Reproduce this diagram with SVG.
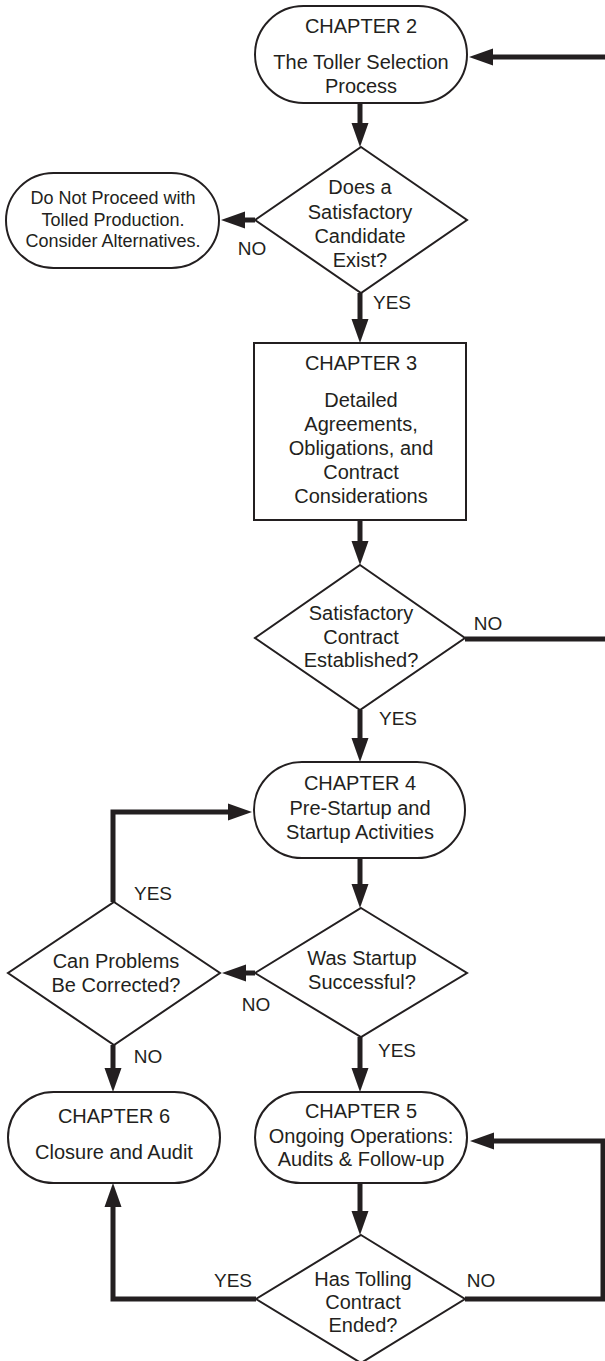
<svg xmlns="http://www.w3.org/2000/svg" width="605" height="1361" viewBox="0 0 605 1361">
  <style>
    .node { fill: #ffffff; stroke: #231f20; stroke-width: 2; }
    .t { font-family: "Liberation Sans", Arial, Helvetica, sans-serif; font-size: 20px; fill: #231f20; text-anchor: middle; }
    .ts { font-family: "Liberation Sans", Arial, Helvetica, sans-serif; font-size: 18px; fill: #231f20; text-anchor: middle; }
    .lbl { font-family: "Liberation Sans", Arial, Helvetica, sans-serif; font-size: 19px; fill: #231f20; text-anchor: middle; }
    .flow { fill: none; stroke: #231f20; stroke-width: 5; stroke-linejoin: miter; stroke-linecap: butt; }
  </style>
  <defs>
    <marker id="ah" markerUnits="userSpaceOnUse" markerWidth="24" markerHeight="17" refX="0" refY="8.5" orient="auto" overflow="visible">
      <path d="M0,0 L24,8.5 L0,17 z" fill="#231f20"/>
    </marker>
  </defs>
  <rect width="605" height="1361" fill="#ffffff"/>

  <!-- connectors -->
  <g id="connectors">
    <path class="flow" d="M605,57 H493" marker-end="url(#ah)"/>
    <path class="flow" d="M360,103 V123" marker-end="url(#ah)"/>
    <path class="flow" d="M255,220 H245" marker-end="url(#ah)"/>
    <path class="flow" d="M360,293 V319" marker-end="url(#ah)"/>
    <path class="flow" d="M360,520 V541" marker-end="url(#ah)"/>
    <path class="flow" d="M465,639 H605"/>
    <path class="flow" d="M360,710 V738" marker-end="url(#ah)"/>
    <path class="flow" d="M360,858 V884" marker-end="url(#ah)"/>
    <path class="flow" d="M255,973 H246" marker-end="url(#ah)"/>
    <path class="flow" d="M113,902 V812 H228" marker-end="url(#ah)"/>
    <path class="flow" d="M113,1045 V1068" marker-end="url(#ah)"/>
    <path class="flow" d="M360,1037 V1068" marker-end="url(#ah)"/>
    <path class="flow" d="M360,1183 V1211" marker-end="url(#ah)"/>
    <path class="flow" d="M256,1299 H113 V1207" marker-end="url(#ah)"/>
    <path class="flow" d="M465,1299 H603 V1141 H494" marker-end="url(#ah)"/>
    <text class="lbl" x="252" y="255">NO</text>
    <text class="lbl" x="392" y="309">YES</text>
    <text class="lbl" x="488" y="630">NO</text>
    <text class="lbl" x="398" y="725">YES</text>
    <text class="lbl" x="153" y="900">YES</text>
    <text class="lbl" x="256" y="1011">NO</text>
    <text class="lbl" x="397" y="1057">YES</text>
    <text class="lbl" x="148" y="1063">NO</text>
    <text class="lbl" x="233" y="1287">YES</text>
    <text class="lbl" x="481" y="1287">NO</text>
  </g>

  <!-- Chapter 2 -->
  <g id="ch2">
    <rect class="node" x="255" y="6" width="212" height="97" rx="48.5"/>
    <text class="t" x="361" y="33">CHAPTER 2</text>
    <text class="t" x="361" y="69">The Toller Selection</text>
    <text class="t" x="361" y="93">Process</text>
  </g>

  <!-- Decision: candidate -->
  <g id="candidate">
    <polygon class="node" points="361,147 467,220 361,293 255,220"/>
    <text class="t" x="360" y="194">Does a</text>
    <text class="t" x="360" y="219">Satisfactory</text>
    <text class="t" x="360" y="243">Candidate</text>
    <text class="t" x="360" y="267">Exist?</text>
  </g>

  <!-- Do not proceed -->
  <g id="noproceed">
    <rect class="node" x="6" y="173" width="213" height="95" rx="47.5"/>
    <text class="ts" x="113" y="204">Do Not Proceed with</text>
    <text class="ts" x="113" y="226">Tolled Production.</text>
    <text class="ts" x="113" y="247">Consider Alternatives.</text>
  </g>

  <!-- Chapter 3 -->
  <g id="ch3">
    <rect class="node" x="254" y="343" width="212" height="177"/>
    <text class="t" x="361" y="370">CHAPTER 3</text>
    <text class="t" x="361" y="407">Detailed</text>
    <text class="t" x="361" y="431">Agreements,</text>
    <text class="t" x="361" y="455">Obligations, and</text>
    <text class="t" x="361" y="479">Contract</text>
    <text class="t" x="361" y="503">Considerations</text>
  </g>

  <!-- Decision: contract -->
  <g id="contract">
    <polygon class="node" points="360,565 465,638 360,710 255,638"/>
    <text class="t" x="361" y="620">Satisfactory</text>
    <text class="t" x="361" y="644">Contract</text>
    <text class="t" x="361" y="667">Established?</text>
  </g>

  <!-- Chapter 4 -->
  <g id="ch4">
    <rect class="node" x="254" y="762" width="211" height="96" rx="48"/>
    <text class="t" x="360" y="790">CHAPTER 4</text>
    <text class="t" x="360" y="815">Pre-Startup and</text>
    <text class="t" x="360" y="839">Startup Activities</text>
  </g>

  <!-- Decision: startup -->
  <g id="startup">
    <polygon class="node" points="361,908 467,973 361,1037 255,973"/>
    <text class="t" x="362" y="965">Was Startup</text>
    <text class="t" x="362" y="989">Successful?</text>
  </g>

  <!-- Decision: correct problems -->
  <g id="correct">
    <polygon class="node" points="114,902 220,973 114,1045 8,973"/>
    <text class="t" x="116" y="968">Can Problems</text>
    <text class="t" x="116" y="992">Be Corrected?</text>
  </g>

  <!-- Chapter 6 -->
  <g id="ch6">
    <rect class="node" x="8" y="1092" width="212" height="91" rx="45.5"/>
    <text class="t" x="114" y="1123">CHAPTER 6</text>
    <text class="t" x="114" y="1159">Closure and Audit</text>
  </g>

  <!-- Chapter 5 -->
  <g id="ch5">
    <rect class="node" x="255" y="1092" width="212" height="91" rx="45.5"/>
    <text class="t" x="361" y="1118">CHAPTER 5</text>
    <text class="t" x="361" y="1143">Ongoing Operations:</text>
    <text class="t" x="361" y="1166">Audits &amp; Follow-up</text>
  </g>

  <!-- Decision: contract ended -->
  <g id="ended">
    <polygon class="node" points="361,1235 465,1299 361,1363 256,1299"/>
    <text class="t" x="363" y="1286">Has Tolling</text>
    <text class="t" x="363" y="1309">Contract</text>
    <text class="t" x="363" y="1332">Ended?</text>
  </g>
</svg>
